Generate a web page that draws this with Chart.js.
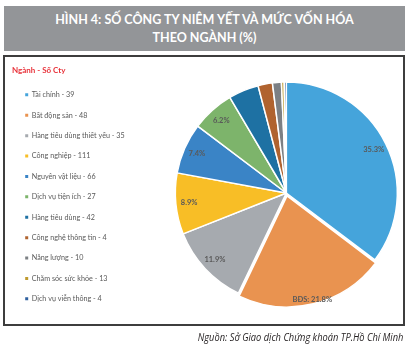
<!DOCTYPE html>
<html lang="vi">
<head>
<meta charset="utf-8">
<script src="https://cdn.jsdelivr.net/npm/chart.js@4/dist/chart.umd.min.js"></script>
<style>
  html, body { margin: 0; padding: 0; background: #fff; }
  #page { position: relative; width: 411px; height: 348px; overflow: hidden; }
  #title {
    position: absolute; left: 4px; top: 6px; width: 401px; height: 45px;
    background: #939598; color: #fff; text-align: center;
    font-family: Lato, "Open Sans", sans-serif; font-weight: 700; font-size: 12.5px;
    line-height: 18px; padding-top: 5px; box-sizing: border-box;
  }
  #frame {
    position: absolute; left: 3px; top: 55px; width: 402px; height: 271px;
    border: 2px solid #3d3d3d; box-sizing: border-box;
  }
  #chart { position: absolute; left: 0; top: 0; }
  #source {
    position: absolute; right: 8px; top: 330px; white-space: nowrap;
    font-family: "Open Sans", sans-serif; font-style: italic; font-size: 10.5px;
    color: #231f20; transform: scaleX(0.885); transform-origin: right center;
  }
</style>
</head>
<body>
<div id="page">
  <div id="title">HÌNH 4: SỐ CÔNG TY NIÊM YẾT VÀ MỨC VỐN HÓA<br>THEO NGÀNH (%)</div>
  <div id="frame"></div>
  <canvas id="chart" width="460" height="348"></canvas>
  <div id="source">Nguồn: Sở Giao dịch Chứng khoán TP.Hồ Chí Minh</div>
</div>
<script>
const sectors = [
  "Tài chính", "Bất động sản", "Hàng tiêu dùng thiết yếu", "Công nghiệp",
  "Nguyên vật liệu", "Dịch vụ tiện ích", "Hàng tiêu dùng", "Công nghệ thông tin",
  "Năng lượng", "Chăm sóc sức khỏe", "Dịch vụ viễn thông"
];
const companyCounts = [39, 48, 35, 111, 66, 27, 42, 4, 10, 13, 4];
// tỷ trọng vốn hóa (%)
const capShare = [35.3, 21.8, 11.9, 8.9, 7.4, 6.2, 4.4, 2.1, 1.3, 0.4, 0.3];
const shortNames = ["", "BĐS", "", "", "", "", "", "", "", "", ""];
const colors = [
  "#45a4db", "#e99350", "#a6aaaf", "#f8be26", "#3a84c6", "#7db46b",
  "#1e71a3", "#b0632f", "#7c8084", "#bf9a2e", "#2f609f"
];
const explode = [0, 12, 0, 0, 0, 0, 0, 0, 0, 0, 0];

// ghi % lên các lát lớn
const sliceLabels = {
  id: "sliceLabels",
  afterDatasetsDraw(chart) {
    const { ctx } = chart;
    const arcs = chart.getDatasetMeta(0).data;
    ctx.save();
    ctx.font = "bold 7.5px Lato, sans-serif";
    ctx.fillStyle = "#595959";
    ctx.textAlign = "center";
    ctx.textBaseline = "middle";
    arcs.forEach((arc, i) => {
      if (capShare[i] < 5) return;
      const mid = (arc.startAngle + arc.endAngle) / 2;
      const r = arc.outerRadius * 0.88 + explode[i];
      const x = arc.x + Math.cos(mid) * r;
      const y = arc.y + Math.sin(mid) * r;
      const txt = (shortNames[i] ? shortNames[i] + ": " : "") + capShare[i].toFixed(1) + "%";
      ctx.fillText(txt, x, y);
    });
    ctx.restore();
  }
};

new Chart(document.getElementById("chart"), {
  type: "pie",
  data: {
    labels: sectors,
    datasets: [{
      data: capShare,
      backgroundColor: colors,
      borderColor: "#ffffff",
      borderWidth: 1.5,
      offset: explode,
      radius: 111,
      clip: false,
    }],
  },
  options: {
    responsive: false,
    animation: false,
    events: [],
    layout: { padding: { left: 12, right: 22, top: 56, bottom: 18 } },
    plugins: {
      tooltip: { enabled: false },
      legend: {
        position: "left",
        align: "start",
        title: {
          display: true,
          text: "Ngành - Số Cty",
          color: "#e8323a",
          position: "start",
          font: { family: "Lato, sans-serif", size: 8, weight: "bold" },
          padding: { top: 10, bottom: 2.45 },
        },
        labels: {
          boxWidth: 3,
          boxHeight: 3,
          padding: 13.2,
          color: "#595959",
          font: { family: "Lato, sans-serif", size: 7.2 },
          generateLabels: (chart) => sectors.map((name, i) => ({
            text: name + " - " + companyCounts[i],
            fillStyle: colors[i],
            strokeStyle: colors[i],
            lineWidth: 0,
            fontColor: "#595959",
            index: i,
          })),
        },
      },
    },
  },
  plugins: [sliceLabels],
});
</script>
</body>
</html>
